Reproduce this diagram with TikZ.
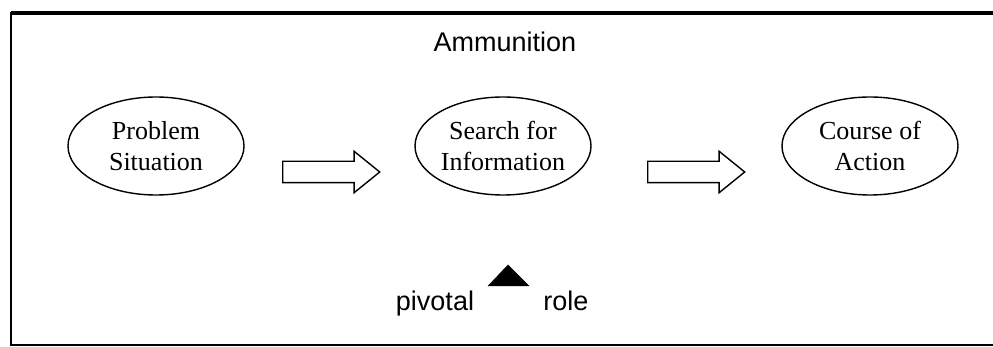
\documentclass[tikz,border=0pt]{standalone}
\usepackage{fontspec}
\setmainfont{Liberation Serif}
\newfontfamily\labelfont{Liberation Sans}
\usetikzlibrary{shapes.geometric,shapes.arrows}

\begin{document}
\begin{tikzpicture}[x=1pt, y=-1pt,
    stage/.style={ellipse, draw, line width=1.4pt, minimum width=176pt, minimum height=98pt,
      inner sep=-4pt, align=center, font=\fontsize{26}{31}\selectfont},
    flow/.style={single arrow, draw, line width=1.4pt, minimum height=97pt, minimum width=40pt,
      inner sep=10pt, single arrow head extend=10pt, single arrow tip angle=78, anchor=tail},
    tag/.style={font=\labelfont\fontsize{27}{30}\selectfont, anchor=base}]
  % --- parameters ---
  \def\yo{146}  % height of the ellipses
  \def\ya{172}  % height of the block arrows

  \useasboundingbox (0,0) rectangle (993,347);

  % frame
  \draw[line width=2pt] (996,13) -- (11,13) -- (11,345) -- (996,345);
  \draw[line width=4pt] (11,13) -- (996,13);

  % stages
  \node[stage] (problem) at (156,\yo) {Problem\\Situation};
  \node[stage] (search)  at (503,\yo) {Search for\\Information};
  \node[stage] (action)  at (870,\yo) {Course of\\Action};

  % block arrows between the stages
  \node[flow] (flowA) at (282,\ya) {};
  \node[flow] (flowB) at (647,\ya) {};

  % labels
  \node[tag] (ammo) at (505,52) {Ammunition};
  \node[tag] (pivotal) at (435,311) {pivotal};
  \node[tag] (role) at (566,311) {role};

  % pivot mark
  \filldraw (508,265) coordinate (pivot) -- (529,286) -- (488,286) -- cycle;
\end{tikzpicture}
\end{document}
